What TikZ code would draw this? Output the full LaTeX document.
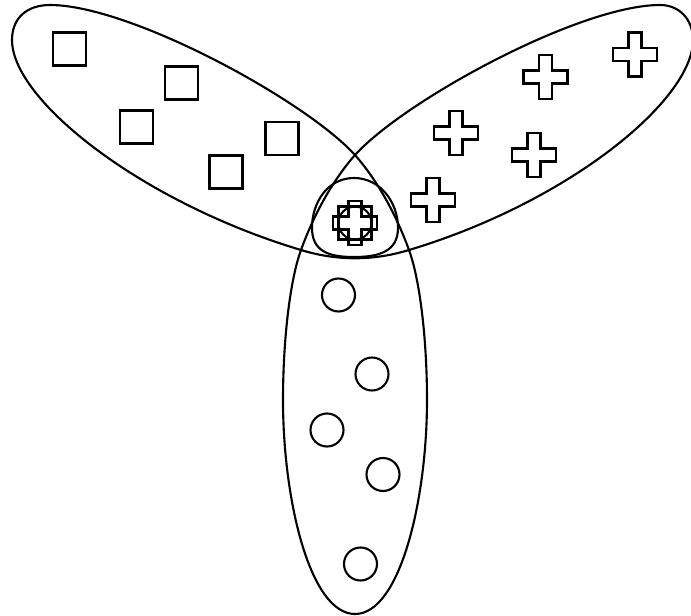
\documentclass[tikz,border=0pt]{standalone}
\usepackage{tikz}
\usetikzlibrary{positioning}
\tikzset{
  outline/.style={line width=1.2pt, line join=round},
  sq/.style={draw, line width=1.2pt, minimum size=6.6mm, inner sep=0pt},
  ring/.style={draw, circle, line width=1.2pt, minimum size=6.6mm, inner sep=0pt},
  plus/.pic={\draw[line width=1.2pt] (-6.5,22) -- (6.5,22) -- (6.5,6.5) -- (22,6.5)
    -- (22,-6.5) -- (6.5,-6.5) -- (6.5,-22) -- (-6.5,-22) -- (-6.5,-6.5)
    -- (-22,-6.5) -- (-22,6.5) -- (-6.5,6.5) -- cycle;}
}

\begin{document}
\begin{tikzpicture}[x=0.02cm, y=-0.02cm]
  \useasboundingbox (0,0) rectangle (691,616);
  \coordinate (top) at (355,155);
  \coordinate (left) at (301,250);
  \coordinate (right) at (409,250);

  % three lobes, one closed curve
  \draw[outline] (top) .. controls (377,180) and (396,214) .. (right)
    .. controls (420,280) and (427,340) .. (427,400)
    .. controls (427,500) and (400,614) .. (355,614)
    .. controls (310,614) and (283,500) .. (283,400)
    .. controls (283,340) and (290,280) .. (left)
    .. controls (314,214) and (333,180) .. (top)
    .. controls (405,100) and (580,5) .. (660,5)
    .. controls (680,5) and (693,20) .. (693,40)
    .. controls (693,100) and (569,202) .. (right)
    .. controls (373,261) and (337,261) .. (left)
    .. controls (141,202) and (12,100) .. (12,40)
    .. controls (12,18) and (27,5) .. (50,5)
    .. controls (130,5) and (305,100) .. (top) -- cycle;

  % middle
  \draw[outline] (354,178) .. controls (380,178) and (398,202) .. (398,228)
    .. controls (398,252) and (378,257) .. (354,257)
    .. controls (330,257) and (312,252) .. (312,228)
    .. controls (312,202) and (328,178) .. (354,178) -- cycle;
  \pic (plusC) at (355,223) {plus};
  \node[sq] (sqC) at (355,223) {};
  \node[ring] (ringC) at (355,223) {};

  \node[sq] (sqA) at (69.5,49) {};
  \node[sq] (sqB) at (181.5,83) {};
  \node[sq] (sqD) at (136.5,127) {};
  \node[sq] (sqE) at (282,138.5) {};
  \node[sq] (sqF) at (226,172) {};

  \pic (plusA) at (635,54.5) {plus};
  \pic (plusB) at (545.5,77) {plus};
  \pic (plusD) at (456,133) {plus};
  \pic (plusE) at (534,155) {plus};
  \pic (plusF) at (433,200) {plus};

  \node[ring] (ringA) at (338.5,295) {};
  \node[ring] (ringB) at (372,374) {};
  \node[ring] (ringD) at (327,430) {};
  \node[ring] (ringE) at (383,474.5) {};
  \node[ring] (ringF) at (360.5,564) {};
\end{tikzpicture}
\end{document}
